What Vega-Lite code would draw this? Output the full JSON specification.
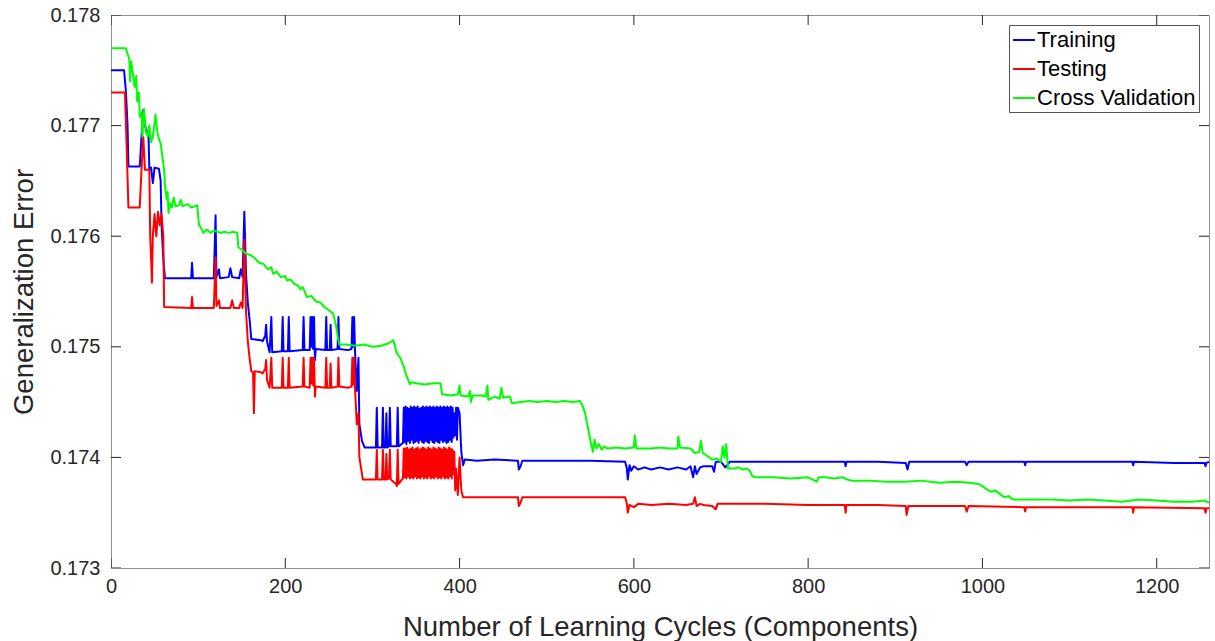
{
"$schema": "https://vega.github.io/schema/vega-lite/v6.json",
"width": 1098, "height": 553,
"autosize": {"type": "none"},
"padding": {"left": 111, "top": 15, "right": 6, "bottom": 73},
"config": {"view": {"stroke": "#8f8f8f", "strokeWidth": 1}, "font": "Liberation Sans"},
"datasets": {
"xticks": [{"v":0},{"v":200},{"v":400},{"v":600},{"v":800},{"v":1000},{"v":1200}],
"yticks": [{"v":0.173},{"v":0.174},{"v":0.175},{"v":0.176},{"v":0.177},{"v":0.178}],
"main": [
{"series":"Training","x":0,"y":0.17750},{"series":"Training","x":15,"y":0.17750},{"series":"Training","x":17,"y":0.17732},{"series":"Training","x":19,"y":0.17700},{"series":"Training","x":20,"y":0.17663},{"series":"Training","x":33,"y":0.17663},{"series":"Training","x":35,"y":0.17690},{"series":"Training","x":37,"y":0.17714},{"series":"Training","x":39,"y":0.17700},{"series":"Training","x":41,"y":0.17695},{"series":"Training","x":43,"y":0.17693},{"series":"Training","x":44,"y":0.17660},{"series":"Training","x":46,"y":0.17662},{"series":"Training","x":48,"y":0.17648},{"series":"Training","x":50,"y":0.17662},{"series":"Training","x":55,"y":0.17661},{"series":"Training","x":57,"y":0.17650},{"series":"Training","x":58,"y":0.17610},{"series":"Training","x":60,"y":0.17580},{"series":"Training","x":62,"y":0.17562},{"series":"Training","x":92,"y":0.17562},{"series":"Training","x":93,"y":0.17576},{"series":"Training","x":94,"y":0.17562},{"series":"Training","x":118,"y":0.17562},{"series":"Training","x":120,"y":0.17619},{"series":"Training","x":121,"y":0.17563},{"series":"Training","x":124,"y":0.17570},{"series":"Training","x":125,"y":0.17562},{"series":"Training","x":135,"y":0.17563},{"series":"Training","x":137,"y":0.17571},{"series":"Training","x":139,"y":0.17563},{"series":"Training","x":147,"y":0.17562},{"series":"Training","x":149,"y":0.17570},{"series":"Training","x":151,"y":0.17563},{"series":"Training","x":153,"y":0.17622},{"series":"Training","x":155,"y":0.17565},{"series":"Training","x":157,"y":0.17540},{"series":"Training","x":159,"y":0.17525},{"series":"Training","x":161,"y":0.17507},{"series":"Training","x":172,"y":0.17506},{"series":"Training","x":174,"y":0.17505},{"series":"Training","x":177,"y":0.17510},{"series":"Training","x":178,"y":0.17520},{"series":"Training","x":179,"y":0.17505},{"series":"Training","x":182,"y":0.17495},{"series":"Training","x":184,"y":0.17527},{"series":"Training","x":185,"y":0.17495},{"series":"Training","x":196,"y":0.17496},{"series":"Training","x":197,"y":0.17527},{"series":"Training","x":198,"y":0.17496},{"series":"Training","x":203,"y":0.17496},{"series":"Training","x":204,"y":0.17527},{"series":"Training","x":205,"y":0.17496},{"series":"Training","x":220,"y":0.17497},{"series":"Training","x":221,"y":0.17527},{"series":"Training","x":222,"y":0.17497},{"series":"Training","x":228,"y":0.17497},{"series":"Training","x":229,"y":0.17527},{"series":"Training","x":230,"y":0.17500},{"series":"Training","x":231,"y":0.17527},{"series":"Training","x":232,"y":0.17498},{"series":"Training","x":233,"y":0.17527},{"series":"Training","x":234,"y":0.17488},{"series":"Training","x":235,"y":0.17498},{"series":"Training","x":246,"y":0.17497},{"series":"Training","x":247,"y":0.17527},{"series":"Training","x":248,"y":0.17497},{"series":"Training","x":251,"y":0.17497},{"series":"Training","x":252,"y":0.17520},{"series":"Training","x":253,"y":0.17497},{"series":"Training","x":260,"y":0.17498},{"series":"Training","x":261,"y":0.17527},{"series":"Training","x":262,"y":0.17498},{"series":"Training","x":272,"y":0.17497},{"series":"Training","x":276,"y":0.17498},{"series":"Training","x":277,"y":0.17527},{"series":"Training","x":278,"y":0.17500},{"series":"Training","x":279,"y":0.17527},{"series":"Training","x":280,"y":0.17497},{"series":"Training","x":282,"y":0.17460},{"series":"Training","x":284,"y":0.17490},{"series":"Training","x":285,"y":0.17430},{"series":"Training","x":288,"y":0.17415},{"series":"Training","x":291,"y":0.17409},{"series":"Training","x":304,"y":0.17409},{"series":"Training","x":305,"y":0.17445},{"series":"Training","x":306,"y":0.17409},{"series":"Training","x":311,"y":0.17409},{"series":"Training","x":312,"y":0.17445},{"series":"Training","x":313,"y":0.17409},{"series":"Training","x":315,"y":0.17409},{"series":"Training","x":316,"y":0.17440},{"series":"Training","x":317,"y":0.17409},{"series":"Training","x":319,"y":0.17410},{"series":"Training","x":320,"y":0.17445},{"series":"Training","x":321,"y":0.17410},{"series":"Training","x":328,"y":0.17410},{"series":"Training","x":329,"y":0.17445},{"series":"Training","x":330,"y":0.17410},
{"series":"Training","x":335,"y":0.17413},{"series":"Training","x":336,"y":0.17445},{"series":"Training","x":337,"y":0.17414},{"series":"Training","x":338,"y":0.17446},{"series":"Training","x":339,"y":0.17412},{"series":"Training","x":340,"y":0.17445},{"series":"Training","x":341,"y":0.17415},{"series":"Training","x":342,"y":0.17444},{"series":"Training","x":343,"y":0.17413},{"series":"Training","x":344,"y":0.17446},{"series":"Training","x":345,"y":0.17416},{"series":"Training","x":346,"y":0.17445},{"series":"Training","x":347,"y":0.17413},{"series":"Training","x":348,"y":0.17446},{"series":"Training","x":349,"y":0.17414},{"series":"Training","x":350,"y":0.17445},{"series":"Training","x":351,"y":0.17415},{"series":"Training","x":352,"y":0.17446},{"series":"Training","x":353,"y":0.17413},{"series":"Training","x":354,"y":0.17444},{"series":"Training","x":355,"y":0.17416},{"series":"Training","x":356,"y":0.17445},{"series":"Training","x":357,"y":0.17414},{"series":"Training","x":358,"y":0.17446},{"series":"Training","x":359,"y":0.17413},{"series":"Training","x":360,"y":0.17445},{"series":"Training","x":361,"y":0.17415},{"series":"Training","x":362,"y":0.17446},{"series":"Training","x":363,"y":0.17414},{"series":"Training","x":364,"y":0.17445},{"series":"Training","x":365,"y":0.17413},{"series":"Training","x":366,"y":0.17446},{"series":"Training","x":367,"y":0.17416},{"series":"Training","x":368,"y":0.17445},{"series":"Training","x":369,"y":0.17414},{"series":"Training","x":370,"y":0.17446},{"series":"Training","x":371,"y":0.17413},{"series":"Training","x":372,"y":0.17445},{"series":"Training","x":373,"y":0.17415},{"series":"Training","x":374,"y":0.17446},{"series":"Training","x":375,"y":0.17414},{"series":"Training","x":376,"y":0.17445},{"series":"Training","x":377,"y":0.17413},{"series":"Training","x":378,"y":0.17446},{"series":"Training","x":379,"y":0.17416},{"series":"Training","x":380,"y":0.17445},{"series":"Training","x":381,"y":0.17414},{"series":"Training","x":382,"y":0.17446},{"series":"Training","x":383,"y":0.17415},{"series":"Training","x":384,"y":0.17445},{"series":"Training","x":385,"y":0.17413},{"series":"Training","x":386,"y":0.17446},{"series":"Training","x":387,"y":0.17414},{"series":"Training","x":388,"y":0.17445},{"series":"Training","x":389,"y":0.17416},{"series":"Training","x":390,"y":0.17446},{"series":"Training","x":391,"y":0.17414},{"series":"Training","x":392,"y":0.17445},{"series":"Training","x":393,"y":0.17418},{"series":"Training","x":394,"y":0.17440},{"series":"Training","x":395,"y":0.17420},{"series":"Training","x":396,"y":0.17445},{"series":"Training","x":397,"y":0.17416},{"series":"Training","x":398,"y":0.17445},
{"series":"Training","x":400,"y":0.17440},{"series":"Training","x":402,"y":0.17405},{"series":"Training","x":404,"y":0.17393},{"series":"Training","x":406,"y":0.17398},{"series":"Training","x":420,"y":0.17397},{"series":"Training","x":440,"y":0.17398},{"series":"Training","x":467,"y":0.17397},{"series":"Training","x":468,"y":0.17389},{"series":"Training","x":470,"y":0.17392},{"series":"Training","x":472,"y":0.17397},{"series":"Training","x":500,"y":0.17397},{"series":"Training","x":550,"y":0.17397},{"series":"Training","x":590,"y":0.17396},{"series":"Training","x":592,"y":0.17390},{"series":"Training","x":593,"y":0.17380},{"series":"Training","x":595,"y":0.17393},{"series":"Training","x":597,"y":0.17388},{"series":"Training","x":600,"y":0.17392},{"series":"Training","x":605,"y":0.17389},{"series":"Training","x":612,"y":0.17391},{"series":"Training","x":620,"y":0.17389},{"series":"Training","x":630,"y":0.17391},{"series":"Training","x":640,"y":0.17389},{"series":"Training","x":650,"y":0.17391},{"series":"Training","x":660,"y":0.17389},{"series":"Training","x":665,"y":0.17392},{"series":"Training","x":668,"y":0.17382},{"series":"Training","x":670,"y":0.17392},{"series":"Training","x":672,"y":0.17385},{"series":"Training","x":676,"y":0.17391},{"series":"Training","x":680,"y":0.17392},{"series":"Training","x":690,"y":0.17392},{"series":"Training","x":692,"y":0.17387},{"series":"Training","x":694,"y":0.17396},{"series":"Training","x":700,"y":0.17396},{"series":"Training","x":705,"y":0.17391},{"series":"Training","x":710,"y":0.17396},{"series":"Training","x":750,"y":0.17396},{"series":"Training","x":800,"y":0.17396},{"series":"Training","x":842,"y":0.17396},{"series":"Training","x":843,"y":0.17392},{"series":"Training","x":844,"y":0.17396},{"series":"Training","x":880,"y":0.17396},{"series":"Training","x":912,"y":0.17395},{"series":"Training","x":914,"y":0.17389},{"series":"Training","x":916,"y":0.17396},{"series":"Training","x":980,"y":0.17396},{"series":"Training","x":982,"y":0.17393},{"series":"Training","x":984,"y":0.17396},{"series":"Training","x":1048,"y":0.17396},{"series":"Training","x":1049,"y":0.17393},{"series":"Training","x":1050,"y":0.17396},{"series":"Training","x":1100,"y":0.17396},{"series":"Training","x":1172,"y":0.17396},{"series":"Training","x":1173,"y":0.17393},{"series":"Training","x":1174,"y":0.17396},{"series":"Training","x":1220,"y":0.17395},{"series":"Training","x":1255,"y":0.17395},{"series":"Training","x":1256,"y":0.17392},{"series":"Training","x":1257,"y":0.17395},{"series":"Training","x":1260,"y":0.17396},
{"series":"Testing","x":0,"y":0.17730},{"series":"Testing","x":16,"y":0.17730},{"series":"Testing","x":18,"y":0.17680},{"series":"Testing","x":20,"y":0.17626},{"series":"Testing","x":33,"y":0.17626},{"series":"Testing","x":35,"y":0.17660},{"series":"Testing","x":37,"y":0.17690},{"series":"Testing","x":39,"y":0.17660},{"series":"Testing","x":44,"y":0.17660},{"series":"Testing","x":45,"y":0.17600},{"series":"Testing","x":46,"y":0.17580},{"series":"Testing","x":47,"y":0.17558},{"series":"Testing","x":48,"y":0.17600},{"series":"Testing","x":50,"y":0.17620},{"series":"Testing","x":52,"y":0.17600},{"series":"Testing","x":54,"y":0.17622},{"series":"Testing","x":56,"y":0.17610},{"series":"Testing","x":58,"y":0.17620},{"series":"Testing","x":60,"y":0.17600},{"series":"Testing","x":61,"y":0.17536},{"series":"Testing","x":92,"y":0.17535},{"series":"Testing","x":93,"y":0.17545},{"series":"Testing","x":94,"y":0.17535},{"series":"Testing","x":118,"y":0.17535},{"series":"Testing","x":120,"y":0.17581},{"series":"Testing","x":121,"y":0.17537},{"series":"Testing","x":124,"y":0.17542},{"series":"Testing","x":125,"y":0.17535},{"series":"Testing","x":137,"y":0.17535},{"series":"Testing","x":139,"y":0.17542},{"series":"Testing","x":141,"y":0.17535},{"series":"Testing","x":147,"y":0.17535},{"series":"Testing","x":149,"y":0.17540},{"series":"Testing","x":151,"y":0.17535},{"series":"Testing","x":153,"y":0.17597},{"series":"Testing","x":155,"y":0.17531},{"series":"Testing","x":157,"y":0.17505},{"series":"Testing","x":159,"y":0.17490},{"series":"Testing","x":161,"y":0.17478},{"series":"Testing","x":163,"y":0.17477},{"series":"Testing","x":164,"y":0.17440},{"series":"Testing","x":165,"y":0.17478},{"series":"Testing","x":172,"y":0.17477},{"series":"Testing","x":174,"y":0.17476},{"series":"Testing","x":177,"y":0.17480},{"series":"Testing","x":178,"y":0.17488},{"series":"Testing","x":179,"y":0.17470},{"series":"Testing","x":182,"y":0.17463},{"series":"Testing","x":184,"y":0.17490},{"series":"Testing","x":185,"y":0.17463},{"series":"Testing","x":196,"y":0.17463},{"series":"Testing","x":197,"y":0.17490},{"series":"Testing","x":198,"y":0.17463},{"series":"Testing","x":203,"y":0.17463},{"series":"Testing","x":204,"y":0.17490},{"series":"Testing","x":205,"y":0.17463},{"series":"Testing","x":220,"y":0.17464},{"series":"Testing","x":221,"y":0.17490},{"series":"Testing","x":222,"y":0.17464},{"series":"Testing","x":228,"y":0.17463},{"series":"Testing","x":229,"y":0.17490},{"series":"Testing","x":230,"y":0.17467},{"series":"Testing","x":231,"y":0.17490},{"series":"Testing","x":232,"y":0.17465},{"series":"Testing","x":233,"y":0.17490},{"series":"Testing","x":234,"y":0.17455},{"series":"Testing","x":235,"y":0.17464},{"series":"Testing","x":246,"y":0.17463},{"series":"Testing","x":247,"y":0.17490},{"series":"Testing","x":248,"y":0.17463},{"series":"Testing","x":251,"y":0.17463},{"series":"Testing","x":252,"y":0.17485},{"series":"Testing","x":253,"y":0.17463},{"series":"Testing","x":260,"y":0.17464},{"series":"Testing","x":261,"y":0.17490},{"series":"Testing","x":262,"y":0.17464},{"series":"Testing","x":272,"y":0.17463},{"series":"Testing","x":276,"y":0.17464},{"series":"Testing","x":277,"y":0.17490},{"series":"Testing","x":278,"y":0.17466},{"series":"Testing","x":279,"y":0.17490},{"series":"Testing","x":280,"y":0.17463},{"series":"Testing","x":282,"y":0.17430},{"series":"Testing","x":284,"y":0.17440},{"series":"Testing","x":285,"y":0.17400},{"series":"Testing","x":287,"y":0.17390},{"series":"Testing","x":289,"y":0.17380},{"series":"Testing","x":304,"y":0.17380},{"series":"Testing","x":305,"y":0.17407},{"series":"Testing","x":306,"y":0.17380},{"series":"Testing","x":311,"y":0.17380},{"series":"Testing","x":312,"y":0.17407},{"series":"Testing","x":313,"y":0.17380},{"series":"Testing","x":315,"y":0.17380},{"series":"Testing","x":316,"y":0.17403},{"series":"Testing","x":317,"y":0.17380},{"series":"Testing","x":319,"y":0.17381},{"series":"Testing","x":320,"y":0.17407},{"series":"Testing","x":321,"y":0.17380},{"series":"Testing","x":327,"y":0.17376},{"series":"Testing","x":328,"y":0.17374},{"series":"Testing","x":329,"y":0.17407},{"series":"Testing","x":330,"y":0.17376},
{"series":"Testing","x":335,"y":0.17381},{"series":"Testing","x":336,"y":0.17408},{"series":"Testing","x":337,"y":0.17382},{"series":"Testing","x":338,"y":0.17408},{"series":"Testing","x":339,"y":0.17381},{"series":"Testing","x":340,"y":0.17409},{"series":"Testing","x":341,"y":0.17383},{"series":"Testing","x":342,"y":0.17407},{"series":"Testing","x":343,"y":0.17381},{"series":"Testing","x":344,"y":0.17408},{"series":"Testing","x":345,"y":0.17382},{"series":"Testing","x":346,"y":0.17409},{"series":"Testing","x":347,"y":0.17381},{"series":"Testing","x":348,"y":0.17407},{"series":"Testing","x":349,"y":0.17383},{"series":"Testing","x":350,"y":0.17408},{"series":"Testing","x":351,"y":0.17381},{"series":"Testing","x":352,"y":0.17409},{"series":"Testing","x":353,"y":0.17382},{"series":"Testing","x":354,"y":0.17407},{"series":"Testing","x":355,"y":0.17381},{"series":"Testing","x":356,"y":0.17408},{"series":"Testing","x":357,"y":0.17383},{"series":"Testing","x":358,"y":0.17409},{"series":"Testing","x":359,"y":0.17381},{"series":"Testing","x":360,"y":0.17408},{"series":"Testing","x":361,"y":0.17382},{"series":"Testing","x":362,"y":0.17407},{"series":"Testing","x":363,"y":0.17381},{"series":"Testing","x":364,"y":0.17409},{"series":"Testing","x":365,"y":0.17383},{"series":"Testing","x":366,"y":0.17408},{"series":"Testing","x":367,"y":0.17381},{"series":"Testing","x":368,"y":0.17407},{"series":"Testing","x":369,"y":0.17382},{"series":"Testing","x":370,"y":0.17409},{"series":"Testing","x":371,"y":0.17381},{"series":"Testing","x":372,"y":0.17408},{"series":"Testing","x":373,"y":0.17383},{"series":"Testing","x":374,"y":0.17407},{"series":"Testing","x":375,"y":0.17381},{"series":"Testing","x":376,"y":0.17409},{"series":"Testing","x":377,"y":0.17382},{"series":"Testing","x":378,"y":0.17408},{"series":"Testing","x":379,"y":0.17381},{"series":"Testing","x":380,"y":0.17407},{"series":"Testing","x":381,"y":0.17383},{"series":"Testing","x":382,"y":0.17409},{"series":"Testing","x":383,"y":0.17381},{"series":"Testing","x":384,"y":0.17408},{"series":"Testing","x":385,"y":0.17382},{"series":"Testing","x":386,"y":0.17407},{"series":"Testing","x":387,"y":0.17381},{"series":"Testing","x":388,"y":0.17409},{"series":"Testing","x":389,"y":0.17383},{"series":"Testing","x":390,"y":0.17408},{"series":"Testing","x":391,"y":0.17381},{"series":"Testing","x":392,"y":0.17407},{"series":"Testing","x":393,"y":0.17385},{"series":"Testing","x":394,"y":0.17405},{"series":"Testing","x":395,"y":0.17370},{"series":"Testing","x":396,"y":0.17390},{"series":"Testing","x":397,"y":0.17378},{"series":"Testing","x":398,"y":0.17366},
{"series":"Testing","x":400,"y":0.17400},{"series":"Testing","x":402,"y":0.17370},{"series":"Testing","x":404,"y":0.17364},{"series":"Testing","x":420,"y":0.17364},{"series":"Testing","x":467,"y":0.17364},{"series":"Testing","x":468,"y":0.17356},{"series":"Testing","x":470,"y":0.17359},{"series":"Testing","x":472,"y":0.17364},{"series":"Testing","x":500,"y":0.17364},{"series":"Testing","x":550,"y":0.17364},{"series":"Testing","x":590,"y":0.17364},{"series":"Testing","x":592,"y":0.17358},{"series":"Testing","x":593,"y":0.17350},{"series":"Testing","x":595,"y":0.17357},{"series":"Testing","x":600,"y":0.17355},{"series":"Testing","x":605,"y":0.17358},{"series":"Testing","x":620,"y":0.17357},{"series":"Testing","x":640,"y":0.17358},{"series":"Testing","x":660,"y":0.17357},{"series":"Testing","x":668,"y":0.17358},{"series":"Testing","x":670,"y":0.17364},{"series":"Testing","x":672,"y":0.17356},{"series":"Testing","x":676,"y":0.17358},{"series":"Testing","x":680,"y":0.17357},{"series":"Testing","x":690,"y":0.17356},{"series":"Testing","x":694,"y":0.17353},{"series":"Testing","x":696,"y":0.17358},{"series":"Testing","x":720,"y":0.17358},{"series":"Testing","x":750,"y":0.17358},{"series":"Testing","x":800,"y":0.17357},{"series":"Testing","x":842,"y":0.17357},{"series":"Testing","x":843,"y":0.17350},{"series":"Testing","x":844,"y":0.17357},{"series":"Testing","x":880,"y":0.17357},{"series":"Testing","x":912,"y":0.17356},{"series":"Testing","x":913,"y":0.17348},{"series":"Testing","x":915,"y":0.17356},{"series":"Testing","x":980,"y":0.17356},{"series":"Testing","x":982,"y":0.17351},{"series":"Testing","x":984,"y":0.17356},{"series":"Testing","x":1048,"y":0.17355},{"series":"Testing","x":1049,"y":0.17351},{"series":"Testing","x":1050,"y":0.17355},{"series":"Testing","x":1100,"y":0.17355},{"series":"Testing","x":1172,"y":0.17355},{"series":"Testing","x":1173,"y":0.17350},{"series":"Testing","x":1174,"y":0.17355},{"series":"Testing","x":1255,"y":0.17354},{"series":"Testing","x":1256,"y":0.17350},{"series":"Testing","x":1257,"y":0.17354},{"series":"Testing","x":1260,"y":0.17354},
{"series":"Cross Validation","x":0,"y":0.17770},{"series":"Cross Validation","x":17,"y":0.17770},{"series":"Cross Validation","x":19,"y":0.17765},{"series":"Cross Validation","x":21,"y":0.17760},{"series":"Cross Validation","x":22,"y":0.17740},{"series":"Cross Validation","x":23,"y":0.17758},{"series":"Cross Validation","x":25,"y":0.17748},{"series":"Cross Validation","x":27,"y":0.17735},{"series":"Cross Validation","x":29,"y":0.17745},{"series":"Cross Validation","x":30,"y":0.17722},{"series":"Cross Validation","x":32,"y":0.17730},{"series":"Cross Validation","x":33,"y":0.17708},{"series":"Cross Validation","x":35,"y":0.17712},{"series":"Cross Validation","x":36,"y":0.17690},{"series":"Cross Validation","x":38,"y":0.17715},{"series":"Cross Validation","x":40,"y":0.17695},{"series":"Cross Validation","x":42,"y":0.17690},{"series":"Cross Validation","x":44,"y":0.17700},{"series":"Cross Validation","x":46,"y":0.17685},{"series":"Cross Validation","x":48,"y":0.17690},{"series":"Cross Validation","x":50,"y":0.17702},{"series":"Cross Validation","x":51,"y":0.17710},{"series":"Cross Validation","x":53,"y":0.17695},{"series":"Cross Validation","x":55,"y":0.17688},{"series":"Cross Validation","x":57,"y":0.17684},{"series":"Cross Validation","x":59,"y":0.17672},{"series":"Cross Validation","x":61,"y":0.17660},{"series":"Cross Validation","x":62,"y":0.17645},{"series":"Cross Validation","x":64,"y":0.17633},{"series":"Cross Validation","x":65,"y":0.17640},{"series":"Cross Validation","x":66,"y":0.17621},{"series":"Cross Validation","x":68,"y":0.17630},{"series":"Cross Validation","x":70,"y":0.17626},{"series":"Cross Validation","x":72,"y":0.17635},{"series":"Cross Validation","x":74,"y":0.17627},{"series":"Cross Validation","x":78,"y":0.17628},{"series":"Cross Validation","x":80,"y":0.17633},{"series":"Cross Validation","x":82,"y":0.17627},{"series":"Cross Validation","x":88,"y":0.17629},{"series":"Cross Validation","x":92,"y":0.17626},{"series":"Cross Validation","x":96,"y":0.17627},{"series":"Cross Validation","x":99,"y":0.17628},{"series":"Cross Validation","x":101,"y":0.17610},{"series":"Cross Validation","x":103,"y":0.17608},{"series":"Cross Validation","x":106,"y":0.17603},{"series":"Cross Validation","x":110,"y":0.17606},{"series":"Cross Validation","x":114,"y":0.17603},{"series":"Cross Validation","x":118,"y":0.17605},{"series":"Cross Validation","x":122,"y":0.17604},{"series":"Cross Validation","x":126,"y":0.17603},{"series":"Cross Validation","x":130,"y":0.17604},{"series":"Cross Validation","x":136,"y":0.17603},{"series":"Cross Validation","x":140,"y":0.17604},{"series":"Cross Validation","x":145,"y":0.17603},{"series":"Cross Validation","x":146,"y":0.17590},{"series":"Cross Validation","x":150,"y":0.17588},{"series":"Cross Validation","x":155,"y":0.17584},{"series":"Cross Validation","x":160,"y":0.17583},{"series":"Cross Validation","x":165,"y":0.17580},{"series":"Cross Validation","x":170,"y":0.17576},{"series":"Cross Validation","x":175,"y":0.17575},{"series":"Cross Validation","x":180,"y":0.17570},{"series":"Cross Validation","x":184,"y":0.17572},{"series":"Cross Validation","x":186,"y":0.17566},{"series":"Cross Validation","x":190,"y":0.17568},{"series":"Cross Validation","x":195,"y":0.17563},{"series":"Cross Validation","x":200,"y":0.17564},{"series":"Cross Validation","x":202,"y":0.17560},{"series":"Cross Validation","x":206,"y":0.17561},{"series":"Cross Validation","x":210,"y":0.17557},{"series":"Cross Validation","x":215,"y":0.17555},{"series":"Cross Validation","x":217,"y":0.17552},{"series":"Cross Validation","x":220,"y":0.17554},{"series":"Cross Validation","x":225,"y":0.17545},{"series":"Cross Validation","x":230,"y":0.17546},{"series":"Cross Validation","x":235,"y":0.17541},{"series":"Cross Validation","x":240,"y":0.17540},{"series":"Cross Validation","x":245,"y":0.17536},{"series":"Cross Validation","x":250,"y":0.17533},{"series":"Cross Validation","x":255,"y":0.17530},{"series":"Cross Validation","x":258,"y":0.17520},{"series":"Cross Validation","x":260,"y":0.17510},{"series":"Cross Validation","x":262,"y":0.17502},{"series":"Cross Validation","x":270,"y":0.17502},{"series":"Cross Validation","x":280,"y":0.17501},{"series":"Cross Validation","x":290,"y":0.17502},{"series":"Cross Validation","x":300,"y":0.17500},{"series":"Cross Validation","x":310,"y":0.17501},{"series":"Cross Validation","x":318,"y":0.17503},{"series":"Cross Validation","x":322,"y":0.17505},{"series":"Cross Validation","x":324,"y":0.17506},{"series":"Cross Validation","x":326,"y":0.17500},{"series":"Cross Validation","x":328,"y":0.17494},{"series":"Cross Validation","x":332,"y":0.17490},{"series":"Cross Validation","x":336,"y":0.17482},{"series":"Cross Validation","x":339,"y":0.17474},{"series":"Cross Validation","x":341,"y":0.17470},{"series":"Cross Validation","x":343,"y":0.17466},{"series":"Cross Validation","x":345,"y":0.17468},{"series":"Cross Validation","x":350,"y":0.17467},{"series":"Cross Validation","x":360,"y":0.17466},{"series":"Cross Validation","x":370,"y":0.17467},{"series":"Cross Validation","x":378,"y":0.17467},{"series":"Cross Validation","x":380,"y":0.17457},{"series":"Cross Validation","x":390,"y":0.17456},{"series":"Cross Validation","x":398,"y":0.17457},{"series":"Cross Validation","x":400,"y":0.17465},{"series":"Cross Validation","x":401,"y":0.17456},{"series":"Cross Validation","x":410,"y":0.17455},{"series":"Cross Validation","x":412,"y":0.17460},{"series":"Cross Validation","x":413,"y":0.17450},{"series":"Cross Validation","x":415,"y":0.17456},{"series":"Cross Validation","x":425,"y":0.17456},{"series":"Cross Validation","x":430,"y":0.17455},{"series":"Cross Validation","x":432,"y":0.17465},{"series":"Cross Validation","x":433,"y":0.17452},{"series":"Cross Validation","x":440,"y":0.17455},{"series":"Cross Validation","x":446,"y":0.17453},{"series":"Cross Validation","x":448,"y":0.17463},{"series":"Cross Validation","x":450,"y":0.17454},{"series":"Cross Validation","x":458,"y":0.17455},{"series":"Cross Validation","x":460,"y":0.17449},{"series":"Cross Validation","x":470,"y":0.17450},{"series":"Cross Validation","x":480,"y":0.17451},{"series":"Cross Validation","x":490,"y":0.17450},{"series":"Cross Validation","x":500,"y":0.17451},{"series":"Cross Validation","x":510,"y":0.17450},{"series":"Cross Validation","x":520,"y":0.17451},{"series":"Cross Validation","x":530,"y":0.17450},{"series":"Cross Validation","x":538,"y":0.17451},{"series":"Cross Validation","x":541,"y":0.17447},{"series":"Cross Validation","x":544,"y":0.17440},{"series":"Cross Validation","x":547,"y":0.17428},{"series":"Cross Validation","x":549,"y":0.17420},{"series":"Cross Validation","x":551,"y":0.17412},{"series":"Cross Validation","x":553,"y":0.17405},{"series":"Cross Validation","x":555,"y":0.17416},{"series":"Cross Validation","x":557,"y":0.17408},{"series":"Cross Validation","x":560,"y":0.17412},{"series":"Cross Validation","x":563,"y":0.17407},{"series":"Cross Validation","x":566,"y":0.17410},{"series":"Cross Validation","x":570,"y":0.17408},{"series":"Cross Validation","x":580,"y":0.17409},{"series":"Cross Validation","x":590,"y":0.17408},{"series":"Cross Validation","x":600,"y":0.17409},{"series":"Cross Validation","x":601,"y":0.17420},{"series":"Cross Validation","x":603,"y":0.17408},{"series":"Cross Validation","x":620,"y":0.17408},{"series":"Cross Validation","x":630,"y":0.17409},{"series":"Cross Validation","x":640,"y":0.17408},{"series":"Cross Validation","x":650,"y":0.17408},{"series":"Cross Validation","x":651,"y":0.17419},{"series":"Cross Validation","x":653,"y":0.17409},{"series":"Cross Validation","x":665,"y":0.17408},{"series":"Cross Validation","x":670,"y":0.17404},{"series":"Cross Validation","x":675,"y":0.17405},{"series":"Cross Validation","x":677,"y":0.17415},{"series":"Cross Validation","x":679,"y":0.17404},{"series":"Cross Validation","x":685,"y":0.17401},{"series":"Cross Validation","x":690,"y":0.17398},{"series":"Cross Validation","x":695,"y":0.17399},{"series":"Cross Validation","x":700,"y":0.17396},{"series":"Cross Validation","x":702,"y":0.17410},{"series":"Cross Validation","x":704,"y":0.17400},{"series":"Cross Validation","x":706,"y":0.17412},{"series":"Cross Validation","x":708,"y":0.17390},{"series":"Cross Validation","x":715,"y":0.17390},{"series":"Cross Validation","x":720,"y":0.17391},{"series":"Cross Validation","x":725,"y":0.17389},{"series":"Cross Validation","x":730,"y":0.17390},{"series":"Cross Validation","x":733,"y":0.17388},{"series":"Cross Validation","x":736,"y":0.17383},{"series":"Cross Validation","x":740,"y":0.17382},{"series":"Cross Validation","x":760,"y":0.17382},{"series":"Cross Validation","x":780,"y":0.17381},{"series":"Cross Validation","x":800,"y":0.17382},{"series":"Cross Validation","x":810,"y":0.17378},{"series":"Cross Validation","x":812,"y":0.17382},{"series":"Cross Validation","x":820,"y":0.17382},{"series":"Cross Validation","x":830,"y":0.17381},{"series":"Cross Validation","x":840,"y":0.17382},{"series":"Cross Validation","x":845,"y":0.17380},{"series":"Cross Validation","x":850,"y":0.17379},{"series":"Cross Validation","x":870,"y":0.17379},{"series":"Cross Validation","x":890,"y":0.17378},{"series":"Cross Validation","x":910,"y":0.17378},{"series":"Cross Validation","x":930,"y":0.17379},{"series":"Cross Validation","x":950,"y":0.17377},{"series":"Cross Validation","x":970,"y":0.17378},{"series":"Cross Validation","x":985,"y":0.17377},{"series":"Cross Validation","x":995,"y":0.17376},{"series":"Cross Validation","x":1000,"y":0.17374},{"series":"Cross Validation","x":1005,"y":0.17371},{"series":"Cross Validation","x":1010,"y":0.17369},{"series":"Cross Validation","x":1015,"y":0.17370},{"series":"Cross Validation","x":1020,"y":0.17367},{"series":"Cross Validation","x":1025,"y":0.17364},{"series":"Cross Validation","x":1030,"y":0.17365},{"series":"Cross Validation","x":1035,"y":0.17362},{"series":"Cross Validation","x":1040,"y":0.17362},{"series":"Cross Validation","x":1060,"y":0.17362},{"series":"Cross Validation","x":1080,"y":0.17362},{"series":"Cross Validation","x":1100,"y":0.17361},{"series":"Cross Validation","x":1120,"y":0.17362},{"series":"Cross Validation","x":1140,"y":0.17361},{"series":"Cross Validation","x":1160,"y":0.17360},{"series":"Cross Validation","x":1180,"y":0.17362},{"series":"Cross Validation","x":1200,"y":0.17361},{"series":"Cross Validation","x":1220,"y":0.17360},{"series":"Cross Validation","x":1240,"y":0.17360},{"series":"Cross Validation","x":1255,"y":0.17361},{"series":"Cross Validation","x":1260,"y":0.17359}
]},
"layer": [
{
"data": {"name": "main"},
"mark": {"type": "line", "strokeWidth": 2, "strokeJoin": "round"},
"encoding": {
"x": {"field": "x", "type": "quantitative",
"scale": {"domain": [0, 1260], "nice": false, "zero": false},
"axis": {"values": [0, 200, 400, 600, 800, 1000, 1200], "format": "d", "grid": false, "title": "Number of Learning Cycles (Components)",
"titleFontSize": 27.5, "titleFontWeight": "normal", "titleColor": "#262626", "titlePadding": 17,
"labelFontSize": 20, "labelColor": "#262626", "labelPadding": 8, "ticks": false, "domainColor": "#8f8f8f", "labelFlush": false}},
"y": {"field": "y", "type": "quantitative",
"scale": {"domain": [0.173, 0.178], "nice": false, "zero": false},
"axis": {"values": [0.173, 0.174, 0.175, 0.176, 0.177, 0.178], "format": ".3f", "grid": false, "title": "Generalization Error",
"titleFontSize": 27.5, "titleFontWeight": "normal", "titleColor": "#262626", "titlePadding": 11,
"labelFontSize": 20, "labelColor": "#262626", "labelPadding": 11, "ticks": false, "domainColor": "#8f8f8f", "labelFlush": false}},
"color": {"field": "series", "type": "nominal",
"scale": {"domain": ["Training", "Testing", "Cross Validation"], "range": ["#0000ff", "#ff0000", "#00ff00"]},
"legend": {"title": null, "orient": "top-right", "offset": 10, "symbolType": "stroke", "symbolStrokeWidth": 2, "symbolSize": 480,
"labelFontSize": 22, "labelColor": "#000000", "fillColor": "#ffffff", "strokeColor": "#555555", "padding": 3, "rowPadding": 6, "labelOffset": 1}},
"order": {"field": "x", "type": "quantitative"}
}
},
{
"data": {"name": "xticks"},
"mark": {"type": "tick", "orient": "vertical", "size": 20, "thickness": 1, "color": "#262626", "opacity": 1, "clip": true},
"encoding": {
"x": {"field": "v", "type": "quantitative"},
"y": {"datum": 0.173, "type": "quantitative"}
}
},
{
"data": {"name": "xticks"},
"mark": {"type": "tick", "orient": "vertical", "size": 20, "thickness": 1, "color": "#262626", "opacity": 1, "clip": true},
"encoding": {
"x": {"field": "v", "type": "quantitative"},
"y": {"datum": 0.178, "type": "quantitative"}
}
},
{
"data": {"name": "yticks"},
"mark": {"type": "tick", "orient": "horizontal", "size": 20, "thickness": 1, "color": "#262626", "opacity": 1, "clip": true},
"encoding": {
"y": {"field": "v", "type": "quantitative"},
"x": {"datum": 0, "type": "quantitative"}
}
},
{
"data": {"name": "yticks"},
"mark": {"type": "tick", "orient": "horizontal", "size": 20, "thickness": 1, "color": "#262626", "opacity": 1, "clip": true},
"encoding": {
"y": {"field": "v", "type": "quantitative"},
"x": {"datum": 1260, "type": "quantitative"}
}
}
]
}
